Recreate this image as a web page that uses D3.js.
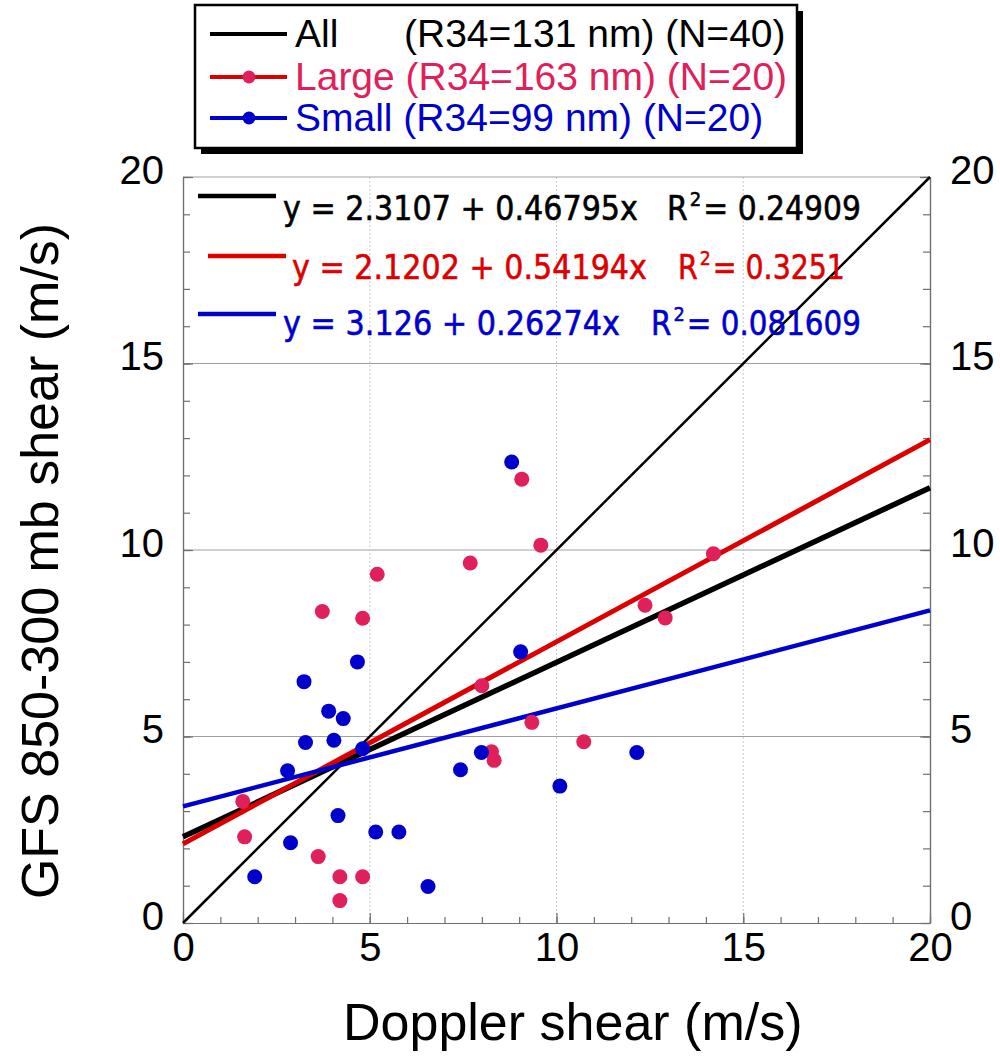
<!DOCTYPE html>
<html>
<head>
<meta charset="utf-8">
<script src="https://cdn.jsdelivr.net/npm/d3@7"></script>
<style>
  body { margin: 0; background: #fff; }
  svg { display: block; font-family: "Liberation Sans", Arial, Helvetica, sans-serif; }
</style>
</head>
<body>
<div id="chart"></div>
<script>
// Large storms (R34 = 163 nm)
const largeX = [1.60, 1.65, 3.62, 3.73, 4.20, 4.20, 4.81, 4.81, 5.20, 7.69, 8.00, 8.26, 8.33, 9.07, 9.34, 9.58, 10.73, 12.37, 12.91, 14.20];
const largeY = [3.26, 2.31, 1.78, 8.35, 1.24, 0.60, 8.17, 1.24, 9.35, 9.65, 6.36, 4.59, 4.36, 11.90, 5.38, 10.13, 4.86, 8.52, 8.18, 9.90];
// Small storms (R34 = 99 nm)
const smallX = [1.92, 2.80, 2.88, 3.24, 3.28, 3.90, 4.04, 4.15, 4.29, 4.67, 4.81, 5.16, 5.78, 6.56, 7.43, 7.99, 8.80, 9.04, 10.09, 12.15];
const smallY = [1.24, 4.08, 2.15, 6.47, 4.84, 5.68, 4.90, 2.88, 5.48, 7.00, 4.67, 2.44, 2.44, 0.98, 4.11, 4.57, 12.36, 7.27, 3.67, 4.57];

// linear fits: All, Large, Small
const fitIntercepts = [2.3107, 2.1202, 3.126];
const fitSlopes = [0.46795, 0.54194, 0.26274];
const fitInterceptText = ["2.3107", "2.1202", "3.126"];
const fitSlopeText = ["0.46795", "0.54194", "0.26274"];
const fitR2Text = ["0.24909", "0.3251", "0.081609"];

const legendNames = ["All", "Large", "Small"];
const legendInfo = ["(R34=131 nm) (N=40)", "(R34=163 nm) (N=20)", "(R34=99 nm) (N=20)"];

const xTicks = [0, 5, 10, 15, 20];
const yTicks = [0, 5, 10, 15, 20];
const lineRange = [0, 20];

const lineColors = ["#000000", "#dd0000", "#0000cc"];
const textColors = ["#000000", "#e0205a", "#0000cc"];
const eqColors = ["#000000", "#dd0000", "#0000cc"];
const dotColors = { large: "#e0205a", small: "#0000cc" };

const margin = { top: 177, right: 70, bottom: 136, left: 183 },
    width = 1000 - margin.left - margin.right,
    height = 1059 - margin.top - margin.bottom;

const svg = d3.select("#chart")
    .append("svg")
    .attr("width", 1000)
    .attr("height", 1059);

const g = svg.append("g")
    .attr("transform", `translate(${margin.left}, ${margin.top})`);

const x = d3.scaleLinear().domain([0, 20]).range([0, width]);
const y = d3.scaleLinear().domain([0, 20]).range([height, 0]);

// grid
g.selectAll(".hgrid")
    .data(yTicks.filter(d => d > 0 && d < 20))
    .join("line")
    .attr("x1", 0).attr("x2", width)
    .attr("y1", d => y(d)).attr("y2", d => y(d))
    .attr("stroke", "#a0a0a0").attr("stroke-width", 1);

g.selectAll(".vgrid")
    .data(xTicks.filter(d => d > 0 && d < 20))
    .join("line")
    .attr("x1", d => x(d)).attr("x2", d => x(d))
    .attr("y1", 0).attr("y2", height)
    .attr("stroke", "#cccccc").attr("stroke-width", 1)
    .attr("stroke-dasharray", "2,2");

// top frame
g.append("line")
    .attr("x1", 0).attr("x2", width).attr("y1", 0).attr("y2", 0)
    .attr("stroke", "#a0a0a0");

function styleAxis(sel) {
    sel.select(".domain").attr("stroke", "#707070").attr("stroke-width", 1.2);
    sel.selectAll(".tick line").attr("stroke", "#707070").attr("stroke-width", 1.2);
    sel.selectAll("text")
        .attr("fill", "#000")
        .style("font-size", "40px")
        .style("font-family", "'Liberation Sans', Arial, sans-serif");
}

const minor = d3.range(0, 21);

// left axis
g.append("g")
    .call(d3.axisLeft(y).tickValues(minor).tickSize(-7).tickSizeOuter(0).tickFormat(""))
    .call(styleAxis);
g.append("g")
    .call(d3.axisLeft(y).tickValues(yTicks).tickSize(-10).tickSizeOuter(0).tickPadding(19))
    .call(styleAxis)
    .selectAll("text").attr("dy", "0.15em");

// right axis
g.append("g")
    .attr("transform", `translate(${width}, 0)`)
    .call(d3.axisRight(y).tickValues(minor).tickSize(-7).tickSizeOuter(0).tickFormat(""))
    .call(styleAxis);
g.append("g")
    .attr("transform", `translate(${width}, 0)`)
    .call(d3.axisRight(y).tickValues(yTicks).tickSize(-10).tickSizeOuter(0).tickPadding(20))
    .call(styleAxis)
    .selectAll("text").attr("dy", "0.15em");

// bottom axis
g.append("g")
    .attr("transform", `translate(0, ${height})`)
    .call(d3.axisBottom(x).tickValues(minor).tickSize(-6).tickSizeOuter(0).tickFormat(""))
    .call(styleAxis);
g.append("g")
    .attr("transform", `translate(0, ${height})`)
    .call(d3.axisBottom(x).tickValues(xTicks).tickSize(-10).tickSizeOuter(0).tickPadding(10))
    .call(styleAxis);

// 1:1 line
const line = d3.line().x(d => x(d[0])).y(d => y(d[1]));
g.append("path")
    .attr("d", line(lineRange.map(v => [v, v])))
    .attr("stroke", "#000").attr("stroke-width", 2.5).attr("fill", "none");

// fit lines
const fitWidths = [5.5, 5, 4.5];
fitIntercepts.forEach((a, i) => {
    g.append("path")
        .attr("d", line(lineRange.map(v => [v, a + fitSlopes[i] * v])))
        .attr("stroke", lineColors[i])
        .attr("stroke-width", fitWidths[i])
        .attr("fill", "none");
});

// points
const largePts = largeX.map((v, i) => [v, largeY[i]]);
const smallPts = smallX.map((v, i) => [v, smallY[i]]);

g.selectAll(".large")
    .data(largePts)
    .join("circle")
    .attr("cx", d => x(d[0])).attr("cy", d => y(d[1]))
    .attr("r", 7.5).attr("fill", dotColors.large);

g.selectAll(".small")
    .data(smallPts)
    .join("circle")
    .attr("cx", d => x(d[0])).attr("cy", d => y(d[1]))
    .attr("r", 7.5).attr("fill", dotColors.small);

// equations; text is squeezed horizontally with a scale transform
function squeezedText(str, px, py, size, color, targetW) {
    const t = svg.append("text")
        .attr("fill", color)
        .attr("stroke", color)
        .attr("stroke-width", 0.6)
        .style("font-family", "'DejaVu Sans', sans-serif")
        .style("font-size", size + "px")
        .text(str);
    const w = t.node().getComputedTextLength();
    t.attr("transform", `translate(${px}, ${py}) scale(${targetW / w}, 1)`);
    return t;
}

const eqRows = [
    { lx: 198, ly: 196, tx: 283, ty: 220, lenA: 355, rx: 667, lenB: 194 },
    { lx: 208, ly: 256, tx: 292, ty: 279, lenA: 355, rx: 678, lenB: 167 },
    { lx: 198, ly: 314, tx: 283, ty: 335, lenA: 337, rx: 651, lenB: 210 }
];
eqRows.forEach((r, i) => {
    svg.append("line")
        .attr("x1", r.lx).attr("x2", r.lx + 78)
        .attr("y1", r.ly).attr("y2", r.ly)
        .attr("stroke", eqColors[i]).attr("stroke-width", 4.5);

    squeezedText(`y = ${fitInterceptText[i]} + ${fitSlopeText[i]}x`, r.tx, r.ty, 33, eqColors[i], r.lenA);

    // R² as three pieces side by side
    const pieces = [
        { t: "R", size: 33, dy: 0 },
        { t: "2", size: 20, dy: -14 },
        { t: `= ${fitR2Text[i]}`, size: 33, dy: 0 }
    ];
    const gap = 2;
    const probe = pieces.map(p => {
        const n = svg.append("text")
            .style("font-family", "'DejaVu Sans', sans-serif")
            .style("font-size", p.size + "px")
            .text(p.t);
        const w = n.node().getComputedTextLength();
        n.remove();
        return w;
    });
    const k = (r.lenB - gap * 2) / d3.sum(probe);
    let cx = r.rx;
    pieces.forEach((p, j) => {
        const w = probe[j] * k;
        squeezedText(p.t, cx, r.ty + p.dy, p.size, eqColors[i], w);
        cx += w + gap;
    });
});

// legend
const legend = svg.append("g");
legend.append("rect")
    .attr("x", 201).attr("y", 11).attr("width", 602).attr("height", 143)
    .attr("fill", "#000");
legend.append("rect")
    .attr("x", 195).attr("y", 5).attr("width", 602).attr("height", 143)
    .attr("fill", "#fff").attr("stroke", "#000").attr("stroke-width", 2.5);

const legendY = [34, 77, 118];
legendNames.forEach((name, i) => {
    legend.append("line")
        .attr("x1", 210).attr("x2", 287)
        .attr("y1", legendY[i]).attr("y2", legendY[i])
        .attr("stroke", lineColors[i]).attr("stroke-width", 4);
    if (i > 0) {
        legend.append("circle")
            .attr("cx", 249).attr("cy", legendY[i]).attr("r", 6.5)
            .attr("fill", textColors[i]);
    }
    const txt = legend.append("text")
        .attr("x", 295).attr("y", legendY[i] + 13)
        .attr("fill", textColors[i])
        .style("font-size", "39px");
    if (i === 0) {
        txt.text(name);
        legend.append("text")
            .attr("x", 404).attr("y", legendY[i] + 13)
            .attr("fill", textColors[i])
            .style("font-size", "39px")
            .text(legendInfo[i]);
    } else {
        txt.text(`${name} ${legendInfo[i]}`);
    }
});

// axis titles
svg.append("text")
    .attr("x", 343).attr("y", 1040)
    .style("font-size", "52px")
    .text("Doppler shear (m/s)");

svg.append("text")
    .attr("transform", "translate(58, 561) rotate(-90)")
    .attr("text-anchor", "middle")
    .style("font-size", "52px")
    .text("GFS 850-300 mb shear (m/s)");
</script>
</body>
</html>
